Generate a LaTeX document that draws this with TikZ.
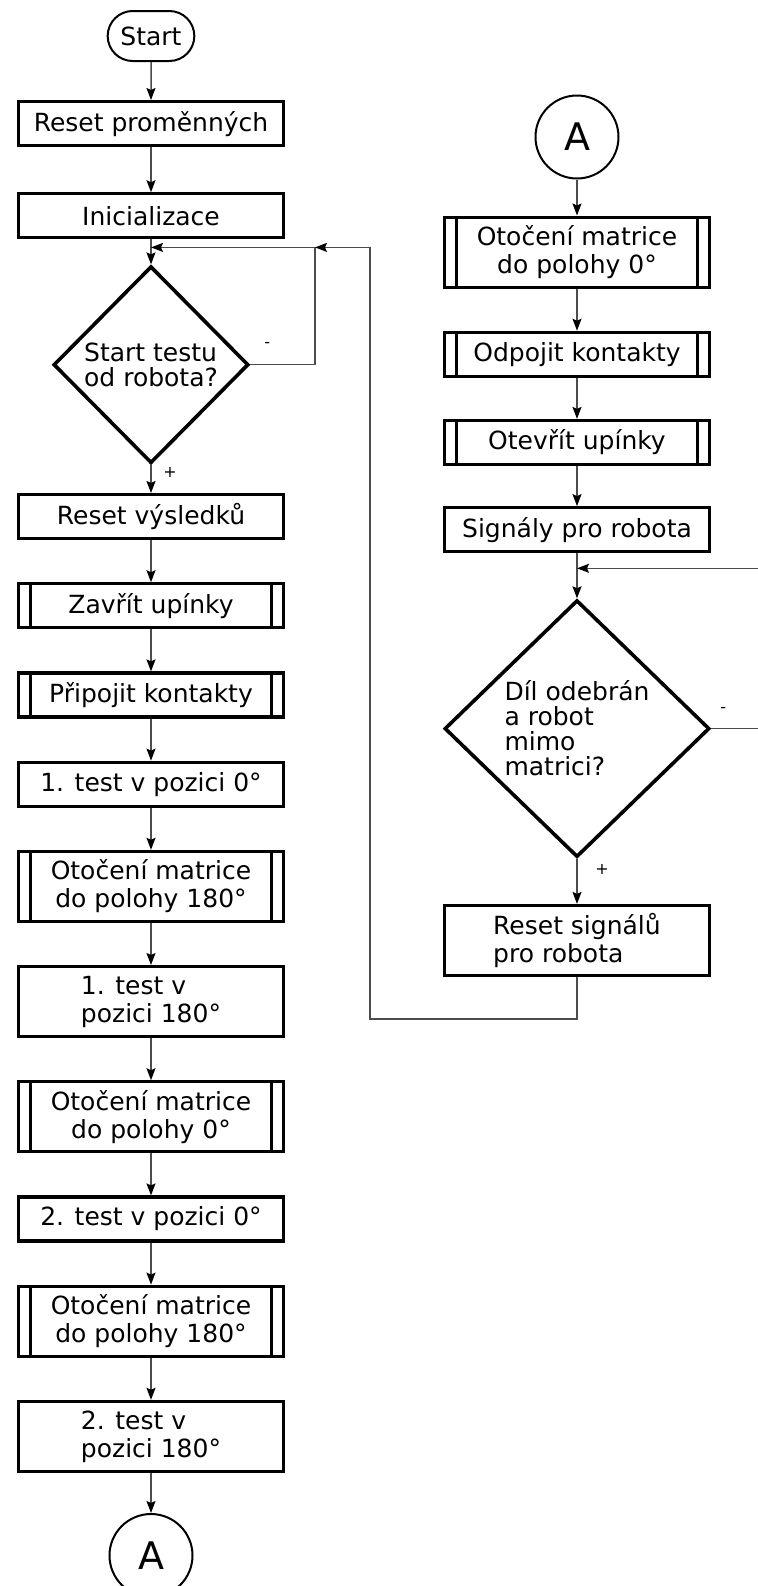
\documentclass[tikz,border=0pt]{standalone}
\usepackage{fontspec}
\setmainfont{DejaVu Sans}
\usetikzlibrary{positioning,shapes.geometric,shapes.misc,arrows.meta}

\begin{document}
\begin{tikzpicture}[x=0.5pt, y=-0.5pt,
                    font=\fontsize{12.5}{14}\selectfont,
                    node distance=21pt,
                    proc/.style = {draw, line width=1.6pt, minimum width=132.5pt, minimum height=22pt, inner sep=2pt, align=center},
                    tall/.style = {minimum height=35pt},
                    subproc/.style = {proc, path picture={
                        \draw[line width=1.2pt]
                          ([xshift=6pt]path picture bounding box.north west) -- ([xshift=6pt]path picture bounding box.south west)
                          ([xshift=-6pt]path picture bounding box.north east) -- ([xshift=-6pt]path picture bounding box.south east);}},
                    decision/.style = {diamond, draw, line width=1.8pt, inner sep=0pt, align=left, font=\fontsize{12.5}{12.5}\selectfont},
                    term/.style = {rounded rectangle, draw, line width=1pt, minimum width=50pt, minimum height=25pt},
                    conn/.style = {circle, draw, line width=1pt, minimum size=41.5pt, inner sep=0pt, font=\fontsize{19}{19}\selectfont},
                    flow/.style = {draw=black!70, line width=0.75pt, -{Stealth[length=6pt, width=4.5pt, inset=1pt, color=black]}},
                    sign/.style = {inner sep=0pt, font=\fontsize{8}{8}\selectfont}]
                \useasboundingbox (0,0) rectangle (757,1586);

                \node[term] (start) at (151,36) {Start};
                \node[proc, below=19pt of start] (resprom) {Reset proměnných};
                \node[proc, below=22.5pt of resprom] (init) {Inicializace};
                \node[decision, minimum width=97.5pt, minimum height=98.5pt, below=12.5pt of init] (qstart) {Start testu\\od robota?};
                \node[proc, below=14pt of qstart] (resvys) {Reset výsledků};
                \node[subproc, below=of resvys] (zavrit) {Zavřít upínky};
                \node[subproc, below=of zavrit] (pripojit) {Připojit kontakty};
                \node[proc, below=of pripojit] (testa) {1. test v pozici 0°};
                \node[subproc, tall, below=of testa] (rotb) {Otočení matrice\\do polohy 180°};
                \node[proc, tall, align=left, below=of rotb] (testb) {1. test v\\pozici 180°};
                \node[subproc, tall, below=of testb] (rotc) {Otočení matrice\\do polohy 0°};
                \node[proc, below=of rotc] (testc) {2. test v pozici 0°};
                \node[subproc, tall, below=of testc] (rotd) {Otočení matrice\\do polohy 180°};
                \node[proc, tall, align=left, below=of rotd] (testd) {2. test v\\pozici 180°};
                \node[conn, below=20pt of testd] (outa) {A};

                \node[conn] (ina) at (577,137) {A};
                \node[subproc, tall, below=18pt of ina] (rote) {Otočení matrice\\do polohy 0°};
                \node[subproc, below=of rote] (odpojit) {Odpojit kontakty};
                \node[subproc, below=20.5pt of odpojit] (otevrit) {Otevřít upínky};
                \node[proc, below=20pt of otevrit] (signaly) {Signály pro robota};
                \node[decision, minimum width=132.5pt, minimum height=128.5pt, below=22.5pt of signaly] (qdil) {Díl odebrán\\a robot\\mimo\\matrici?};
                \node[proc, tall, align=left, below=22.5pt of qdil] (ressig) {Reset signálů\\pro robota};

                \coordinate[below=4pt of init] (m1);
                \coordinate[right=82pt of m1] (j1);
                \coordinate[right=27.5pt of j1] (j2);
                \coordinate[below=7.5pt of signaly] (m2);

                \draw[flow] (start) -- (resprom);
                \draw[flow] (resprom) -- (init);
                \draw[flow] (init) -- (qstart);
                \draw[flow] (qstart) -- (resvys);
                \draw[flow] (resvys) -- (zavrit);
                \draw[flow] (zavrit) -- (pripojit);
                \draw[flow] (pripojit) -- (testa);
                \draw[flow] (testa) -- (rotb);
                \draw[flow] (rotb) -- (testb);
                \draw[flow] (testb) -- (rotc);
                \draw[flow] (rotc) -- (testc);
                \draw[flow] (testc) -- (rotd);
                \draw[flow] (rotd) -- (testd);
                \draw[flow] (testd) -- (outa);
                \draw[flow] (qstart.east) -| (j1) -- (m1);

                \draw[flow] (ina) -- (rote);
                \draw[flow] (rote) -- (odpojit);
                \draw[flow] (odpojit) -- (otevrit);
                \draw[flow] (otevrit) -- (signaly);
                \draw[flow] (signaly) -- (qdil);
                \draw[flow] (qdil) -- (ressig);
                \draw[flow] (qdil.east) -- ++(60,0) |- (m2);
                \draw[flow] (ressig.south) -- ++(0,42) -| (j2) -- (j1);

                \node[sign] at ([shift={(17,-20)}]qstart.east) {-};
                \node[sign] at ([shift={(19,7)}]qstart.south) {+};
                \node[sign] at ([shift={(12,-19)}]qdil.east) {-};
                \node[sign] at ([shift={(25,11)}]qdil.south) {+};
                \end{tikzpicture}
\end{document}
